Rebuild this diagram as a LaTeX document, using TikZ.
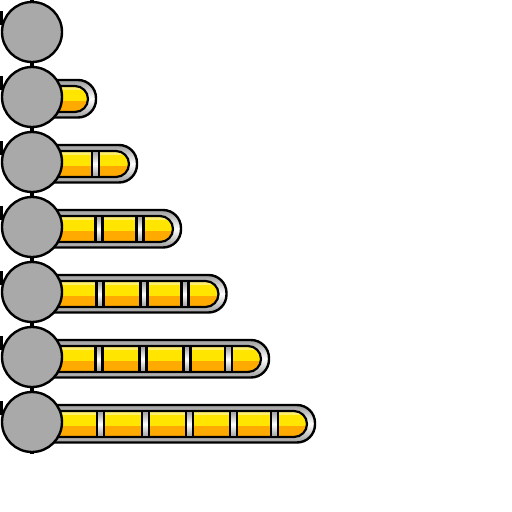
\documentclass[tikz,border=0pt]{standalone}
\definecolor{ballGray}{HTML}{A9A9A9}
\definecolor{trackGray}{HTML}{9C9C9C}
\definecolor{barTop}{HTML}{FFEF6A}
\definecolor{barMid}{HTML}{FFE500}
\definecolor{barLow}{HTML}{FFAA00}
\begin{document}
\begin{tikzpicture}[x=1pt, y=-1pt,
    track/.style={top color=trackGray, bottom color=trackGray, middle color=white, draw=black, line width=2.4pt, rounded corners=18pt},
    slot/.style={top color=trackGray, bottom color=trackGray, middle color=white, draw=black, line width=2.2pt},
    ball/.style={fill=ballGray, draw=black, line width=2.4pt}]
    \useasboundingbox (0,0) rectangle (512,512);

    % Asse dietro le sfere
    \coordinate (Top) at (32,0);
    \coordinate (Bottom) at (32,454);
    \draw[line width=4pt] (Top) -- (Bottom);

    % Barre (binario grigio + riempimento giallo)
    \foreach \cy/\tend in {97/96, 162/137, 227/181, 292/226.5, 357/269, 422/315} {
        \shadedraw[track] (20,\cy-17) rectangle (\tend,\cy+20.5);
        \begin{scope}
            \clip[rounded corners=13pt] (30,\cy-11) rectangle (\tend-8,\cy+15);
            \fill[barLow] (30,\cy-11) rectangle (\tend-8,\cy+15);
            \fill[barMid] (30,\cy-11) rectangle (\tend-8,\cy+4);
            \fill[barTop] (30,\cy-11) rectangle (\tend-8,\cy-7);
        \end{scope}
        \draw[line width=2.2pt, rounded corners=13pt] (30,\cy-11) rectangle (\tend-8,\cy+15);
    }

    % Separatori tra i segmenti
    \foreach \cy/\gx in {162/95.5, 227/99, 227/140, 292/100, 292/144, 292/185,
        357/99, 357/143, 357/187, 357/228.5,
        422/100.5, 422/145.5, 422/189.5, 422/233.5, 422/274.5}
        \shadedraw[slot] (\gx-3.5,\cy-11) rectangle (\gx+3.5,\cy+15);

    % Sfere
    \foreach \i in {0,...,6} {
        \coordinate (B\i) at (32,32+65*\i);
        \draw[line width=3pt] ([yshift=7pt]B\i) ++(-31,0) -- ++(0,-14);
        \filldraw[ball] (B\i) circle[radius=30pt];
    }

\end{tikzpicture}
\end{document}
